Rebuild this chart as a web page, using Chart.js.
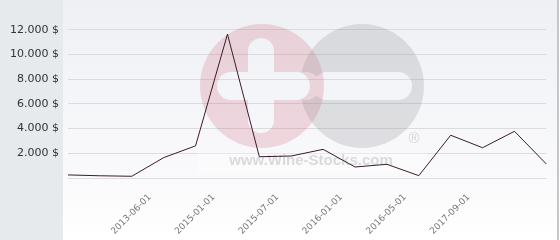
<!DOCTYPE html>
<html>
<head>
<meta charset="utf-8">
<script src="https://cdn.jsdelivr.net/npm/chart.js@4"></script>
<style>
  html, body { margin: 0; padding: 0; background: #ffffff; }
  #wrap { width: 560px; height: 240px; }
</style>
</head>
<body>
<div id="wrap"><canvas id="chart" width="560" height="240"></canvas></div>
<script>
// price history, one point per sample
const dateLabels = [
  "", "", "2013-06-01", "", "2015-01-01", "", "2015-07-01", "",
  "2016-01-01", "", "2016-05-01", "", "2017-09-01", "", "", ""
];

const prices = [
  250, 180, 140, 1650, 2600, 11640, 1720, 1780,
  2320, 890, 1110, 190, 3460, 2450, 3780, 1130
];

const yTicks = [2000, 4000, 6000, 8000, 10000, 12000];


function formatPrice(v) {
  const s = String(Math.round(v)).replace(/\B(?=(\d{3})+(?!\d))/g, ".");
  return s + " $";
}


const backgroundPlugin = {
  id: "background",
  beforeDraw(chart) {
    const ctx = chart.ctx;
    const h = chart.height;

    ctx.save();

    ctx.fillStyle = "#e6eaed";
    ctx.fillRect(0, 0, 63, h);

    const grad = ctx.createLinearGradient(0, 0, 0, h);
    grad.addColorStop(0, "#eef0f4");
    grad.addColorStop(0.75, "#fafafc");
    grad.addColorStop(1, "#ffffff");
    ctx.fillStyle = grad;
    ctx.fillRect(63, 0, 494, h);

    ctx.fillStyle = "#c4c6c8";
    ctx.fillRect(557, 0, 2, h);

    ctx.restore();
  }
};


function bar(c, x1, x2, y, thick) {
  const r = thick / 2;
  c.beginPath();
  c.moveTo(x1 + r, y - r);
  c.lineTo(x2 - r, y - r);
  c.arc(x2 - r, y, r, -Math.PI / 2, Math.PI / 2);
  c.lineTo(x1 + r, y + r);
  c.arc(x1 + r, y, r, Math.PI / 2, Math.PI * 1.5);
  c.closePath();
  c.fill();
}


const watermarkPlugin = {
  id: "watermark",
  beforeDatasetsDraw(chart) {
    const ctx = chart.ctx;

    const off = document.createElement("canvas");
    off.width = chart.width;
    off.height = chart.height;
    const c = off.getContext("2d");

    c.fillStyle = "rgba(200,60,90,0.18)";
    c.beginPath();
    c.arc(262, 86, 62, 0, Math.PI * 2);
    c.fill();

    c.globalCompositeOperation = "destination-out";
    c.fillStyle = "#000";
    bar(c, 217, 310, 86, 28);
    c.beginPath();
    c.moveTo(248, 51);
    c.arc(261, 51, 13, Math.PI, 0);
    c.lineTo(274, 120);
    c.arc(261, 120, 13, 0, Math.PI);
    c.closePath();
    c.fill();

    c.globalCompositeOperation = "source-over";

    const g = document.createElement("canvas");
    g.width = chart.width;
    g.height = chart.height;
    const gc = g.getContext("2d");
    gc.fillStyle = "rgba(130,130,135,0.22)";
    gc.beginPath();
    gc.arc(362, 86, 62, 0, Math.PI * 2);
    gc.fill();
    gc.globalCompositeOperation = "destination-out";
    gc.fillStyle = "#000";
    bar(gc, 313, 412, 86, 28);
    bar(gc, 290, 320, 86, 28);

    c.drawImage(g, 0, 0);

    ctx.save();
    ctx.drawImage(off, 0, 0);

    ctx.fillStyle = "rgba(255,255,255,0.35)";
    ctx.fillRect(197, 153, 230, 20);

    ctx.font = "bold 15px 'Liberation Sans', Arial, sans-serif";
    ctx.textAlign = "center";
    ctx.textBaseline = "middle";
    ctx.fillStyle = "#d9dadc";
    ctx.fillText("www.Wine-Stocks.com", 311, 161);

    ctx.font = "15px 'Liberation Sans', Arial, sans-serif";
    ctx.fillStyle = "#d3d4d6";
    ctx.fillText("®", 414, 139);
    ctx.restore();
  }
};


new Chart(document.getElementById("chart").getContext("2d"), {
  type: "line",
  data: {
    labels: dateLabels,
    datasets: [{
      data: prices,
      borderColor: "#3b1c28",
      borderWidth: 1,
      pointRadius: 0,
      tension: 0,
      fill: false
    }]
  },
  options: {
    responsive: false,
    animation: false,
    events: [],
    layout: {
      padding: { top: 5, right: 6, left: 0, bottom: 0 }
    },
    plugins: {
      legend: { display: false },
      tooltip: { enabled: false }
    },
    scales: {
      x: {
        offset: false,
        afterFit(scale) {
          scale.height = 62;
        },
        grid: { display: false },
        border: { display: false },
        ticks: {
          autoSkip: false,
          minRotation: 45,
          maxRotation: 45,
          padding: 6,
          labelOffset: 18,
          color: "#777777",
          font: { family: "'DejaVu Sans', sans-serif", size: 9 }
        }
      },
      y: {
        min: 0,
        max: 14000,
        afterFit(scale) {
          scale.width = 68;
          scale.paddingTop = 0;
          scale.paddingBottom = 0;
        },
        afterBuildTicks(scale) {
          scale.ticks = [0].concat(yTicks, [14000]).map(v => ({ value: v }));
        },
        grid: {
          drawTicks: false,
          color: ctx => (ctx.tick && ctx.tick.value === 14000) ? "rgba(0,0,0,0)" : "#dcdcdc",
          lineWidth: 1
        },
        border: { display: false },
        ticks: {
          padding: 9,
          color: "#333333",
          font: { family: "'DejaVu Sans', sans-serif", size: 11 },
          callback: v => yTicks.includes(v) ? formatPrice(v) : ""
        }
      }
    }
  },
  plugins: [backgroundPlugin, watermarkPlugin]
});
</script>
</body>
</html>
